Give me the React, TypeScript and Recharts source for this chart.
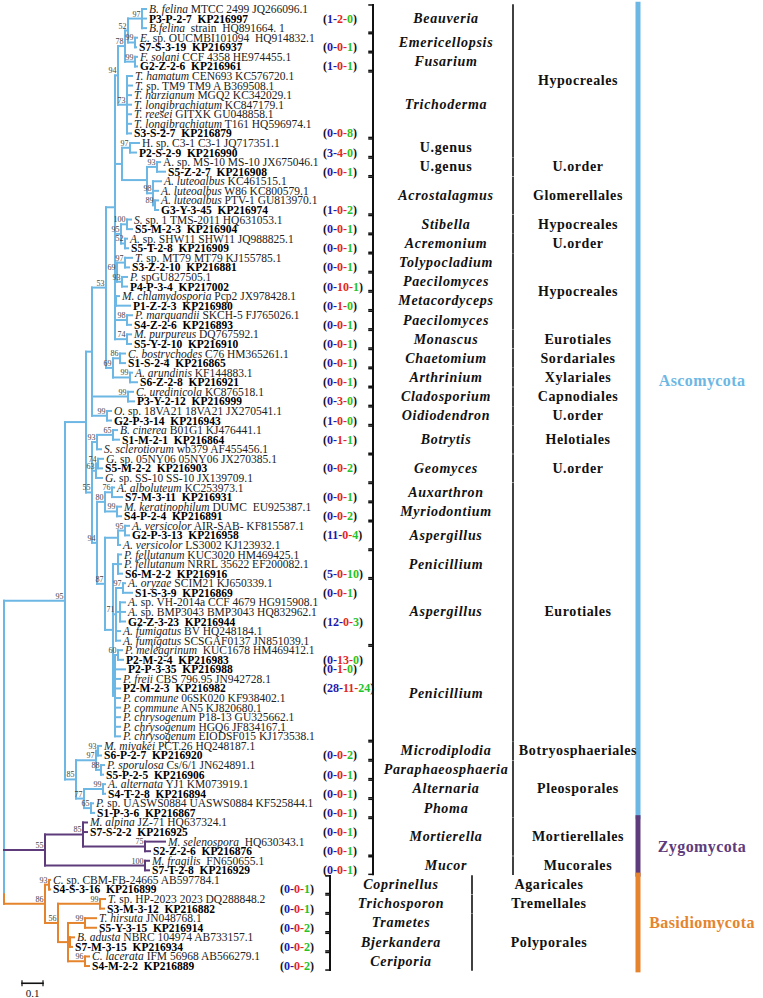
import React from 'react';
import { ComposedChart, XAxis, YAxis, Scatter, ReferenceLine } from 'recharts';

document.body.style.margin = '0';

const SERIF = '"Liberation Serif", "Times New Roman", serif';
const BLUE = '#6db7e4';
const PURPLE = '#5e3c7c';
const ORANGE = '#e5842d';
const NUM_BLUE = '#1b1bb0';
const NUM_RED = '#e3261f';
const NUM_GREEN = '#22c22a';

// internal nodes: id, parent, depth (210 = 1 substitution/site), bootstrap
const nodes: [string, string, number, string][] = [
  ['root', '', 0, ''],
  ['asco', 'root', 61, '95'],
  ['u', 'asco', 82, ''],
  ['u1', 'u', 88, ''],
  ['n53', 'u1', 102, '53'],
  ['h', 'n53', 111, ''],
  ['n94', 'h', 114, '94'],
  ['n78', 'n94', 121, '78'],
  ['n52', 'n78', 124, '52'],
  ['n97a', 'n52', 138, '97'],
  ['n99e', 'n52', 131, '99'],
  ['n99f', 'n78', 131, '99'],
  ['n73', 'n94', 123, '73'],
  ['uga', 'h', 118, ''],
  ['n97b', 'uga', 126, '97'],
  ['n147', 'uga', 143, ''],
  ['n93', 'n147', 153, '93'],
  ['acro', 'n147', 149, '98'],
  ['n89', 'acro', 151, '89'],
  ['n95', 'h', 117, '95'],
  ['n100', 'n95', 123, '100'],
  ['n52b', 'n95', 121, '52'],
  ['n69', 'h', 113, '69'],
  ['n97c', 'n69', 121, '97'],
  ['n93b', 'n69', 118, '93'],
  ['meta', 'h', 112, ''],
  ['n98', 'h', 123, '98'],
  ['n74', 'h', 123, '74'],
  ['ca', 'n53', 109, '69'],
  ['n86', 'ca', 116, '86'],
  ['n99g', 'ca', 126, '99'],
  ['clado', 'u1', 124, '99'],
  ['oidio', 'u1', 103, '99'],
  ['u2', 'u', 88, '55'],
  ['bot', 'u2', 93, '93'],
  ['n65', 'bot', 109, '65'],
  ['geo', 'u2', 92, '63'],
  ['n74g', 'geo', 94, '74'],
  ['eur', 'u2', 93, '94'],
  ['ony', 'eur', 101, '80'],
  ['n76', 'ony', 108, '76'],
  ['n99m', 'ony', 113, '99'],
  ['ap', 'eur', 101, '87'],
  ['asp1', 'ap', 114, ''],
  ['n95a', 'asp1', 121, '95'],
  ['r', 'ap', 109, ''],
  ['pfell', 'r', 114, ''],
  ['asp2', 'r', 112, '71'],
  ['n97d', 'asp2', 119, '97'],
  ['nasp', 'asp2', 116, ''],
  ['pen', 'r', 111, ''],
  ['n60', 'pen', 114, '60'],
  ['doth', 'asco', 72, '85'],
  ['n97e', 'doth', 92, '97'],
  ['n93c', 'n97e', 94, '93'],
  ['n88', 'n97e', 97, '88'],
  ['n77', 'doth', 80, '77'],
  ['n99h', 'n77', 99, '99'],
  ['n65b', 'n77', 87, '65'],
  ['zygo', 'root', 41, '55'],
  ['mort', 'zygo', 79, '85'],
  ['n75', 'mort', 141, '75'],
  ['mucor', 'zygo', 141, '100'],
  ['bas', 'root', 41, '86'],
  ['cop', 'bas', 45, '93'],
  ['n56', 'bas', 54, '56'],
  ['tric', 'n56', 96, '99'],
  ['poly', 'n56', 64, ''],
  ['tram', 'poly', 81, '99'],
  ['bjer', 'poly', 66, ''],
  ['ceri', 'poly', 81, '96'],
];

// leaves top to bottom: parent, tip depth, italic part, rest, isolate counts
const leaves: [string, number, string, string, string][] = [
  ['n97a', 142, 'B. felina', ' MTCC 2499 JQ266096.1', ''],
  ['n97a', 142, '', 'P3-P-2-7  KP216997', '1-2-0'],
  ['n97a', 142, 'B.felina', '  strain  HQ891664. 1', ''],
  ['n99e', 133, 'E.', ' sp. OUCMBI101094  HQ914832.1', ''],
  ['n99e', 132, '', 'S7-S-3-19  KP216937', '0-0-1'],
  ['n99f', 133, 'F. solani', ' CCF 4358 HE974455.1', ''],
  ['n99f', 133, '', 'G2-Z-2-6  KP216961', '1-0-1'],
  ['n73', 128, 'T. hamatum', ' CEN693 KC576720.1', ''],
  ['n73', 128, 'T.', ' sp. TM9 TM9 A B369508.1', ''],
  ['n73', 127, 'T. harzianum', ' MGQ2 KC342029.1', ''],
  ['n73', 127, 'T. longibrachiatum', ' KC847179.1', ''],
  ['n73', 127, 'T. reesei', ' GITXK GU048858.1', ''],
  ['n73', 127, 'T. longibrachiatum', ' T161 HQ596974.1', ''],
  ['n73', 127, '', 'S3-S-2-7  KP216879', '0-0-8'],
  ['n97b', 135, '', 'H. sp. C3-1 C3-1 JQ717351.1', ''],
  ['n97b', 132, '', 'P2-S-2-9  KP216990', '3-4-0'],
  ['n93', 156, '', 'A. sp. MS-10 MS-10 JX675046.1', ''],
  ['n93', 161, '', 'S5-Z-2-7  KP216908', '0-0-1'],
  ['acro', 157, 'A. luteoalbus', ' KC461515.1', ''],
  ['acro', 154, 'A. luteoalbus', ' W86 KC800579.1', ''],
  ['n89', 154, 'A. luteoalbus', ' PTV-1 GU813970.1', ''],
  ['n89', 154, '', 'G3-Y-3-45  KP216974', '1-0-2'],
  ['n100', 127, 'S.', ' sp. 1 TMS-2011 HQ631053.1', ''],
  ['n100', 128, '', 'S5-M-2-3  KP216904', '0-0-1'],
  ['n52b', 123, 'A.', ' sp. SHW11 SHW11 JQ988825.1', ''],
  ['n52b', 124, '', 'S5-T-2-8  KP216909', '0-0-1'],
  ['n97c', 128, 'T.', ' sp. MT79 MT79 KJ155785.1', ''],
  ['n97c', 125, '', 'S3-Z-2-10  KP216881', '0-0-1'],
  ['n93b', 123, 'P.', ' spGU827505.1', ''],
  ['n93b', 123, '', 'P4-P-3-4  KP217002', '0-10-1'],
  ['meta', 115, 'M. chlamydosporia', ' Pcp2 JX978428.1', ''],
  ['meta', 126, '', 'P1-Z-2-3  KP216980', '0-1-0'],
  ['n98', 128, 'P. marquandii', ' SKCH-5 FJ765026.1', ''],
  ['n98', 127, '', 'S4-Z-2-6  KP216893', '0-0-1'],
  ['n74', 127, 'M. purpureus', ' DQ767592.1', ''],
  ['n74', 127, '', 'S5-Y-2-10  KP216910', '0-0-1'],
  ['n86', 121, 'C. bostrychodes', ' C76 HM365261.1', ''],
  ['n86', 121, '', 'S1-S-2-4  KP216865', '0-0-1'],
  ['n99g', 128, 'A. arundinis', ' KF144883.1', ''],
  ['n99g', 133, '', 'S6-Z-2-8  KP216921', '0-0-1'],
  ['clado', 129, 'C. uredinicola', ' KC876518.1', ''],
  ['clado', 130, '', 'P3-Y-2-12  KP216999', '0-3-0'],
  ['oidio', 107, 'O.', ' sp. 18VA21 18VA21 JX270541.1', ''],
  ['oidio', 107, '', 'G2-P-3-14  KP216943', '1-0-0'],
  ['n65', 113, 'B. cinerea', ' B01G1 KJ476441.1', ''],
  ['n65', 115, '', 'S1-M-2-1  KP216864', '0-1-1'],
  ['bot', 97, 'S. sclerotiorum', ' wb379 AF455456.1', ''],
  ['n74g', 99, 'G.', ' sp. 05NY06 05NY06 JX270385.1', ''],
  ['n74g', 98, '', 'S5-M-2-2  KP216903', '0-0-2'],
  ['geo', 98, 'G.', ' sp. SS-10 SS-10 JX139709.1', ''],
  ['n76', 110, 'A. alboluteum', ' KC253973.1', ''],
  ['n76', 118, '', 'S7-M-3-11  KP216931', '0-0-1'],
  ['n99m', 117, 'M. keratinophilum', ' DUMC  EU925387.1', ''],
  ['n99m', 117, '', 'S4-P-2-4  KP216891', '0-0-2'],
  ['n95a', 125, 'A. versicolor', ' AIR-SAB- KF815587.1', ''],
  ['n95a', 125, '', 'G2-P-3-13  KP216958', '11-0-4'],
  ['asp1', 116, 'A. versicolor', ' LS3002 KJ123932.1', ''],
  ['pfell', 117, 'P. fellutanum', ' KUC3020 HM469425.1', ''],
  ['pfell', 117, 'P. fellutanum', ' NRRL 35622 EF200082.1', ''],
  ['pfell', 118, '', 'S6-M-2-2  KP216916', '5-0-10'],
  ['n97d', 121, 'A. oryzae', ' SCIM21 KJ650339.1', ''],
  ['n97d', 128, '', 'S1-S-3-9  KP216869', '0-0-1'],
  ['nasp', 121, 'A.', ' sp. VH-2014a CCF 4679 HG915908.1', ''],
  ['nasp', 121, 'A.', ' sp. BMP3043 BMP3043 HQ832962.1', ''],
  ['nasp', 121, '', 'G2-Z-3-23  KP216944', '12-0-3'],
  ['asp2', 116, 'A. fumigatus', ' BV HQ248184.1', ''],
  ['asp2', 116, 'A. fumigatus', ' SCSGAF0137 JN851039.1', ''],
  ['n60', 118, 'P. meleagrinum', '  KUC1678 HM469412.1', ''],
  ['n60', 119, '', 'P2-M-2-4  KP216983', '0-13-0'],
  ['pen', 121, '', 'P2-P-3-35  KP216988', '0-1-0'],
  ['pen', 116, 'P. freii', ' CBS 796.95 JN942728.1', ''],
  ['pen', 116, '', 'P2-M-2-3  KP216982', '28-11-24'],
  ['pen', 116, 'P. commune', ' 06SK020 KF938402.1', ''],
  ['pen', 116, 'P. commune', ' AN5 KJ820680.1', ''],
  ['pen', 116, 'P. chrysogenum', ' P18-13 GU325662.1', ''],
  ['pen', 116, 'P. chrysogenum', ' HGQ6 JF834167.1', ''],
  ['pen', 116, 'P. chrysogenum', ' EIODSF015 KJ173538.1', ''],
  ['n93c', 97, 'M. miyakei', ' PCT.26 HQ248187.1', ''],
  ['n93c', 97, '', 'S6-P-2-7  KP216920', '0-0-2'],
  ['n88', 100, 'P. sporulosa', ' Cs/6/1 JN624891.1', ''],
  ['n88', 99, '', 'S5-P-2-5  KP216906', '0-0-1'],
  ['n99h', 101, 'A. alternata', ' YJ1 KM073919.1', ''],
  ['n99h', 101, '', 'S4-T-2-8  KP216894', '0-0-1'],
  ['n65b', 89, 'P.', ' sp. UASWS0884 UASWS0884 KF525844.1', ''],
  ['n65b', 90, '', 'S1-P-3-6  KP216867', '0-0-1'],
  ['mort', 83, 'M. alpina', ' JZ-71 HQ637324.1', ''],
  ['mort', 83, '', 'S7-S-2-2  KP216925', '0-0-1'],
  ['n75', 161, 'M. selenospora', '  HQ630343.1', ''],
  ['n75', 146, '', 'S2-Z-2-6  KP216876', '0-0-1'],
  ['mucor', 145, 'M. fragilis', '  FN650655.1', ''],
  ['mucor', 145, '', 'S7-T-2-8  KP216929', '0-0-1'],
  ['cop', 46, 'C.', ' sp. CBM-FB-24665 AB597784.1', ''],
  ['cop', 46, '', 'S4-S-3-16  KP216899', '0-0-1'],
  ['tric', 101, 'T.', ' sp. HP-2023 2023 DQ288848.2', ''],
  ['tric', 100, '', 'S3-M-3-12  KP216882', '0-0-1'],
  ['tram', 92, 'T. hirsuta', ' JN048768.1', ''],
  ['tram', 92, '', 'S5-Y-3-15  KP216914', '0-0-2'],
  ['bjer', 70, 'B. adusta', ' NBRC 104974 AB733157.1', ''],
  ['bjer', 68, '', 'S7-M-3-15  KP216934', '0-0-2'],
  ['ceri', 85, 'C. lacerata', ' IFM 56968 AB566279.1', ''],
  ['ceri', 85, '', 'S4-M-2-2  KP216889', '0-0-2'],
];

// genus brackets: name, first row, last row
const genera: [string, number, number][] = [
  ['Beauveria', 0, 2], ['Emericellopsis', 3, 4], ['Fusarium', 5, 6], ['Trichoderma', 7, 13],
  ['U.genus', 14, 15], ['U.genus', 16, 17], ['Acrostalagmus', 18, 21], ['Stibella', 22, 23],
  ['Acremonium', 24, 25], ['Tolypocladium', 26, 27], ['Paecilomyces', 28, 29], ['Metacordyceps', 30, 31],
  ['Paecilomyces', 32, 33], ['Monascus', 34, 35], ['Chaetomium', 36, 37], ['Arthrinium', 38, 39],
  ['Cladosporium', 40, 41], ['Oidiodendron', 42, 43], ['Botrytis', 44, 46], ['Geomyces', 47, 49],
  ['Auxarthron', 50, 51], ['Myriodontium', 52, 53], ['Aspergillus', 54, 56], ['Penicillium', 57, 59],
  ['Aspergillus', 60, 66], ['Penicillium', 67, 76], ['Microdiplodia', 77, 78], ['Paraphaeosphaeria', 79, 80],
  ['Alternaria', 81, 82], ['Phoma', 83, 84], ['Mortierella', 85, 88], ['Mucor', 89, 90],
  ['Coprinellus', 91, 92], ['Trichosporon', 93, 94], ['Trametes', 95, 96], ['Bjerkandera', 97, 98],
  ['Ceriporia', 99, 100],
];

const orders: [string, number, number][] = [
  ['Hypocreales', 0, 15], ['U.order', 16, 17], ['Glomerellales', 18, 21], ['Hypocreales', 22, 23],
  ['U.order', 24, 25], ['Hypocreales', 26, 33], ['Eurotiales', 34, 35], ['Sordariales', 36, 37],
  ['Xylariales', 38, 39], ['Capnodiales', 40, 41], ['U.order', 42, 43], ['Helotiales', 44, 46],
  ['U.order', 47, 49], ['Eurotiales', 50, 76], ['Botryosphaeriales', 77, 78], ['Pleosporales', 79, 84],
  ['Mortierellales', 85, 88], ['Mucorales', 89, 90], ['Agaricales', 91, 92], ['Tremellales', 93, 94],
  ['Polyporales', 95, 100],
];

const phyla: [string, number, number, string][] = [
  ['Ascomycota', 0, 84, BLUE],
  ['Zygomycota', 85, 90, PURPLE],
  ['Basidiomycota', 91, 100, ORANGE],
];

// layout (x in depth units, 1 unit = 1px; root sits 4px from the left edge)
const X_MIN = -4;
const X_MAX = 759;
const Y_MIN = -0.94;
const Y_MAX = 103.34;
const BAS_ROW = 91;
const COUNT_X = [319, 276];
const BRACKET_X = [369, 326];
const GENUS_X = [442, 397];
const ORDER_LINE_X = [509, 468];
const ORDER_TEXT_X = [574, 545];
const PHYLUM_BAR_X = 634;
const PHYLUM_TEXT_X = 698;

const nodeMap = new Map(nodes.map((n) => [n[0], n]));
const childYs = new Map<string, number[]>();
const childNodes = new Map<string, string[]>();
nodes.forEach(([id, parent]) => {
  if (parent) childNodes.set(parent, [...(childNodes.get(parent) || []), id]);
});
const yCache = new Map<string, number>();
function nodeY(id: string): number {
  if (yCache.has(id)) return yCache.get(id)!;
  const ys: number[] = [];
  leaves.forEach((l, i) => { if (l[0] === id) ys.push(i); });
  (childNodes.get(id) || []).forEach((c) => ys.push(nodeY(c)));
  childYs.set(id, ys);
  const y = (Math.min(...ys) + Math.max(...ys)) / 2;
  yCache.set(id, y);
  return y;
}
nodes.forEach((n) => nodeY(n[0]));

const topColor: Record<string, string> = { asco: BLUE, zygo: PURPLE, bas: ORANGE };
function colorOf(id: string): string {
  let cur = id;
  while (nodeMap.get(cur)![1] !== 'root') cur = nodeMap.get(cur)![1];
  return topColor[cur];
}

type Seg = { x1: number; y1: number; x2: number; y2: number; c: string; w: number };
const segs: Seg[] = [];
nodes.forEach(([id, parent, depth]) => {
  const ys = childYs.get(id)!;
  if (id === 'root') {
    const yb = nodeY('bas');
    segs.push({ x1: depth, y1: nodeY('asco'), x2: depth, y2: yb - 1, c: BLUE, w: 2 });
    segs.push({ x1: depth, y1: yb - 1, x2: depth, y2: yb, c: ORANGE, w: 2 });
    return;
  }
  const c = colorOf(id);
  segs.push({ x1: depth, y1: Math.min(...ys), x2: depth, y2: Math.max(...ys), c, w: 2 });
  segs.push({ x1: nodeMap.get(parent)![2], y1: nodeY(id), x2: depth, y2: nodeY(id), c, w: 2 });
});
leaves.forEach(([parent, tip], i) => {
  segs.push({ x1: nodeMap.get(parent)![2], y1: i, x2: tip, y2: i, c: colorOf(parent), w: 2 });
});
genera.forEach(([, a, b]) => {
  const bx = BRACKET_X[a >= BAS_ROW ? 1 : 0];
  segs.push({ x1: bx, y1: a - 0.42, x2: bx, y2: b + 0.42, c: '#111', w: 2 });
  segs.push({ x1: bx - 4, y1: a - 0.42, x2: bx, y2: a - 0.42, c: '#111', w: 1.5 });
  segs.push({ x1: bx - 4, y1: b + 0.42, x2: bx, y2: b + 0.42, c: '#111', w: 1.5 });
});
orders.forEach(([, a, b]) => {
  const ox = ORDER_LINE_X[a >= BAS_ROW ? 1 : 0];
  segs.push({ x1: ox, y1: a - 0.4, x2: ox, y2: b + 0.4, c: '#111', w: 1.6 });
});
phyla.forEach(([, a, b, c]) => {
  segs.push({ x1: PHYLUM_BAR_X, y1: a - 0.5, x2: PHYLUM_BAR_X, y2: b + 0.4, c, w: 5 });
});
// scale bar 0.1
segs.push({ x1: 18, y1: 101.8, x2: 39, y2: 101.8, c: '#111', w: 1.6 });
segs.push({ x1: 18, y1: 101.55, x2: 18, y2: 102.05, c: '#111', w: 1.2 });
segs.push({ x1: 39, y1: 101.55, x2: 39, y2: 102.05, c: '#111', w: 1.2 });

const leafPts = leaves.map(([, tip, it, rest, counts], i) => ({ x: tip, y: i, it, rest, bold: counts !== '' }));
const countPts = leaves
  .map(([, , , , counts], i) => ({ x: COUNT_X[i >= BAS_ROW ? 1 : 0], y: i, counts }))
  .filter((p) => p.counts !== '');
const supportPts = nodes.filter((n) => n[3]).map(([id, , depth, s]) => ({ x: depth, y: nodeY(id), s }));
const genusPts = genera.map(([name, a, b]) => ({ x: GENUS_X[a >= BAS_ROW ? 1 : 0], y: (a + b) / 2, name }));
const orderPts = orders.map(([name, a, b]) => ({ x: ORDER_TEXT_X[a >= BAS_ROW ? 1 : 0], y: (a + b) / 2, name }));
const phylumShift: Record<string, number> = { Ascomycota: -3.2 };
const phylumPts = phyla.map(([name, a, b, c]) => ({ x: PHYLUM_TEXT_X, y: (a + b) / 2 + (phylumShift[name] || 0), name, c }));
const scalePts = [{ x: 28.5, y: 102.85, name: '0.1' }];

const LeafLabel = (p: any) => (
  <text x={p.cx + 3} y={p.cy} dominantBaseline="central" fontFamily={SERIF} fontSize={11.5}
    fontWeight={p.payload.bold ? 'bold' : 'normal'} fill={p.payload.bold ? '#000' : '#222'} style={{ whiteSpace: 'pre' }}>
    {p.payload.it ? <tspan fontStyle="italic">{p.payload.it}</tspan> : null}
    <tspan>{p.payload.rest}</tspan>
  </text>
);

const CountLabel = (p: any) => {
  const [a, b, c] = p.payload.counts.split('-');
  return (
    <text x={p.cx} y={p.cy} dominantBaseline="central" fontFamily={SERIF} fontSize={12} fontWeight="bold">
      <tspan fill="#111">(</tspan>
      <tspan fill={NUM_BLUE}>{a}-</tspan>
      <tspan fill={NUM_RED}>{b}-</tspan>
      <tspan fill={NUM_GREEN}>{c}</tspan>
      <tspan fill="#111">)</tspan>
    </text>
  );
};

const SupportLabel = (p: any) => (
  <text x={p.cx - 1.5} y={p.cy - 2} textAnchor="end" fontFamily={SERIF} fontSize={8} fill="#444">
    {p.payload.s}
  </text>
);

const GenusLabel = (p: any) => (
  <text x={p.cx} y={p.cy} textAnchor="middle" dominantBaseline="central" fontFamily={SERIF} fontSize={14}
    fontWeight="bold" fontStyle={p.payload.name.startsWith('U.') ? 'normal' : 'italic'} letterSpacing={0.7} fill="#111">
    {p.payload.name}
  </text>
);

const OrderLabel = (p: any) => (
  <text x={p.cx} y={p.cy} textAnchor="middle" dominantBaseline="central" fontFamily={SERIF} fontSize={14}
    fontWeight="bold" letterSpacing={0.6} fill="#111">
    {p.payload.name}
  </text>
);

const PhylumLabel = (p: any) => (
  <text x={p.cx} y={p.cy} textAnchor="middle" dominantBaseline="central" fontFamily={SERIF} fontSize={16}
    fontWeight="bold" letterSpacing={0.4} fill={p.payload.c}>
    {p.payload.name}
  </text>
);

const ScaleLabel = (p: any) => (
  <text x={p.cx} y={p.cy} textAnchor="middle" dominantBaseline="central" fontFamily={SERIF} fontSize={11} fill="#111">
    {p.payload.name}
  </text>
);

export default function App() {
  return (
    <ComposedChart width={763} height={998} margin={{ top: 0, right: 0, bottom: 0, left: 0 }}>
      <XAxis type="number" dataKey="x" domain={[X_MIN, X_MAX]} allowDataOverflow hide height={0} />
      <YAxis type="number" dataKey="y" domain={[Y_MIN, Y_MAX]} allowDataOverflow reversed hide width={0} />
      {segs.map((s, i) => (
        <ReferenceLine key={i} segment={[{ x: s.x1, y: s.y1 }, { x: s.x2, y: s.y2 }]} stroke={s.c}
          strokeWidth={s.w} strokeLinecap="square" ifOverflow="visible" />
      ))}
      <Scatter data={leafPts} shape={LeafLabel} isAnimationActive={false} />
      <Scatter data={countPts} shape={CountLabel} isAnimationActive={false} />
      <Scatter data={supportPts} shape={SupportLabel} isAnimationActive={false} />
      <Scatter data={genusPts} shape={GenusLabel} isAnimationActive={false} />
      <Scatter data={orderPts} shape={OrderLabel} isAnimationActive={false} />
      <Scatter data={phylumPts} shape={PhylumLabel} isAnimationActive={false} />
      <Scatter data={scalePts} shape={ScaleLabel} isAnimationActive={false} />
    </ComposedChart>
  );
}
